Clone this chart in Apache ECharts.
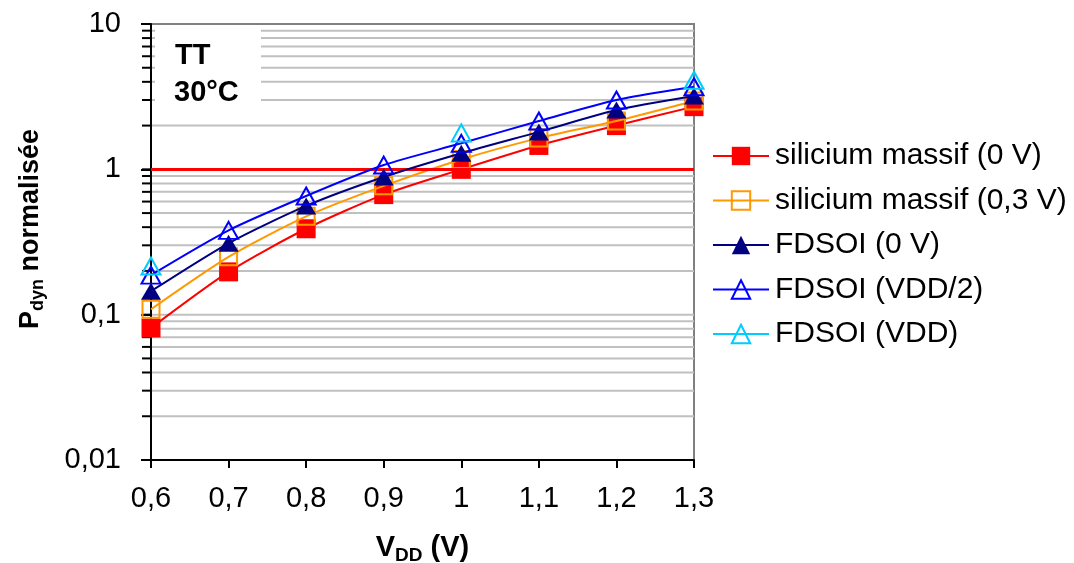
<!DOCTYPE html>
<html>
<head>
<meta charset="utf-8">
<script src="https://cdn.jsdelivr.net/npm/echarts@6/dist/echarts.min.js"></script>
</head>
<body style="margin:0">
<div id="container" style="width:1074px;height:563px;"></div>
<script type="text/javascript">
// tensions d'alimentation (V)
var xValues = [0.6, 0.7, 0.8, 0.9, 1.0, 1.1, 1.2, 1.3];
var xTickLabels = ['0,6', '0,7', '0,8', '0,9', '1', '1,1', '1,2', '1,3'];
var yTickValues = [0.01, 0.1, 1, 10];
var yTickLabels = ['0,01', '0,1', '1', '10'];
// lignes de grille secondaires (2..9 par decade)
var yGridValues = [0.02, 0.03, 0.04, 0.05, 0.06, 0.07, 0.08, 0.09, 0.1,
                   0.2, 0.3, 0.4, 0.5, 0.6, 0.7, 0.8, 0.9, 1,
                   2, 3, 4, 5, 6, 7, 8, 9];

var siliciumMassif0V  = [0.081, 0.197, 0.39, 0.67, 1.0, 1.46, 2.0, 2.7];
var siliciumMassif03V = [0.109, 0.25, 0.475, 0.77, 1.17, 1.64, 2.15, 2.95];
var fdsoi0V           = [0.145, 0.31, 0.56, 0.885, 1.29, 1.81, 2.56, 3.2];
var fdsoiVdd2         = [0.187, 0.38, 0.655, 1.07, 1.51, 2.15, 3.0, 3.7];
var fdsoiVddX         = [0.6, 1.0, 1.3];
var fdsoiVdd          = [0.216, 1.78, 4.1];

var refLevel = 1;

function pairs(xs, ys) {
    return xs.map(function (x, i) { return [x, ys[i]]; });
}

var dom = document.getElementById("container");
var myChart = echarts.init(dom);
var font = 'Liberation Sans, Arial, sans-serif';
var none = 'rgba(0,0,0,0)';

var option = {
    animation: false,
    textStyle: { fontFamily: font },
    grid: {
        left: 151, right: 380, top: 24, bottom: 103,
        outerBoundsMode: 'none',
        containLabel: false,
        show: true, borderColor: '#808080', borderWidth: 2
    },
    legend: {
        orient: 'vertical',
        left: 707, top: 136,
        itemWidth: 56, itemHeight: 23, itemGap: 14.5,
        textStyle: { fontSize: 30, lineHeight: 30, color: '#000', padding: [0, 0, 0, 1] },
        data: [
            { name: 'silicium massif (0 V)' },
            { name: 'silicium massif (0,3 V)' },
            { name: 'FDSOI (0 V)' },
            { name: 'FDSOI (VDD/2)' },
            { name: 'FDSOI (VDD)', lineStyle: { color: '#00ccff', width: 2, opacity: 1 } }
        ]
    },
    xAxis: {
        type: 'value',
        min: 0.6, max: 1.3, interval: 0.1,
        axisLine: { lineStyle: { color: '#000', width: 2 } },
        axisTick: { inside: false, length: 8, lineStyle: { color: '#000', width: 2 } },
        splitLine: { show: false },
        axisLabel: {
            fontSize: 29, color: '#000', margin: 24,
            formatter: function (v) { return xTickLabels[Math.round((v - 0.6) * 10)]; }
        },
        name: '{m|V}{s|DD}{m| (V)}',
        nameLocation: 'middle',
        nameGap: 71,
        nameTextStyle: {
            rich: {
                m: { fontSize: 29, fontWeight: 'bold', lineHeight: 34, color: '#000' },
                s: { fontSize: 19, fontWeight: 'bold', lineHeight: 19, padding: [15, 0, 0, 0], color: '#000' }
            }
        }
    },
    yAxis: {
        type: 'log',
        logBase: 10,
        min: 0.01, max: 10,
        axisLine: { lineStyle: { color: '#000', width: 2 } },
        axisTick: { inside: false, length: 10, lineStyle: { color: '#000', width: 2 } },
        splitLine: { show: false },
        axisLabel: {
            fontSize: 29, color: '#000', margin: 30,
            formatter: function (v) {
                for (var i = 0; i < yTickValues.length; i++) {
                    if (Math.abs(Math.log10(v) - Math.log10(yTickValues[i])) < 1e-6) return yTickLabels[i];
                }
                return '';
            }
        },
        name: '{m|P}{s|dyn}{m| normalisée}',
        nameLocation: 'middle',
        nameRotate: 90,
        nameGap: 104,
        nameTextStyle: {
            padding: [0, 0, 0, 26],
            rich: {
                m: { fontSize: 27, fontWeight: 'bold', lineHeight: 32, color: '#000' },
                s: { fontSize: 18, fontWeight: 'bold', lineHeight: 18, padding: [14, 0, 0, 0], color: '#000' }
            }
        }
    },
    graphic: [
        { type: 'rect', shape: { x: 155, y: 26, width: 106, height: 96 }, style: { fill: '#fff' }, z: 5 },
        { type: 'text', x: 175, y: 56, z: 6,
          style: { text: 'TT', font: 'bold 29px ' + font, fill: '#000', verticalAlign: 'middle' } },
        { type: 'text', x: 174, y: 93, z: 6,
          style: { text: '30°C', font: 'bold 29px ' + font, fill: '#000', verticalAlign: 'middle' } }
    ],
    series: [
        {
            type: 'custom',
            name: 'grille',
            silent: true,
            clip: false,
            z: 1,
            data: yGridValues.map(function (v) { return [0.6, v]; }),
            renderItem: function (params, api) {
                var v = api.value(1);
                var p0 = api.coord([0.6, v]);
                var p1 = api.coord([1.3, v]);
                return {
                    type: 'group',
                    children: [
                        { type: 'line', shape: { x1: p0[0] + 1, y1: p0[1], x2: p1[0], y2: p1[1] },
                          style: { stroke: '#c0c0c0', lineWidth: 2 } },
                        { type: 'line', shape: { x1: p0[0] - 9, y1: p0[1], x2: p0[0], y2: p0[1] },
                          style: { stroke: '#000', lineWidth: 2 } }
                    ]
                };
            }
        },
        {
            name: 'silicium massif (0 V)',
            type: 'line',
            smooth: 0.25,
            z: 3,
            data: pairs(xValues, siliciumMassif0V),
            symbol: 'rect', symbolSize: 19,
            itemStyle: { color: '#ff0000' },
            lineStyle: { color: '#ff0000', width: 2 },
            markLine: {
                silent: true,
                symbol: 'none',
                label: { show: false },
                lineStyle: { color: '#ff0000', width: 3, type: 'solid' },
                data: [{ yAxis: refLevel }]
            }
        },
        {
            name: 'silicium massif (0,3 V)',
            type: 'line',
            smooth: 0.25,
            z: 4,
            data: pairs(xValues, siliciumMassif03V),
            symbol: 'rect', symbolSize: 17,
            itemStyle: { color: none, borderColor: '#ff9900', borderWidth: 2 },
            lineStyle: { color: '#ff9900', width: 2 }
        },
        {
            name: 'FDSOI (0 V)',
            type: 'line',
            smooth: 0.25,
            z: 5,
            data: pairs(xValues, fdsoi0V),
            symbol: 'triangle', symbolSize: [20, 17],
            itemStyle: { color: '#000080' },
            lineStyle: { color: '#000080', width: 2 }
        },
        {
            name: 'FDSOI (VDD/2)',
            type: 'line',
            smooth: 0.25,
            z: 6,
            data: pairs(xValues, fdsoiVdd2),
            symbol: 'triangle', symbolSize: [19, 17],
            itemStyle: { color: none, borderColor: '#0000ff', borderWidth: 2 },
            lineStyle: { color: '#0000ff', width: 2 }
        },
        {
            name: 'FDSOI (VDD)',
            type: 'line',
            z: 7,
            data: pairs(fdsoiVddX, fdsoiVdd),
            symbol: 'triangle', symbolSize: [19, 17],
            itemStyle: { color: none, borderColor: '#00ccff', borderWidth: 2 },
            lineStyle: { color: '#00ccff', width: 2, opacity: 0 }
        }
    ]
};

myChart.setOption(option);
</script>
</body>
</html>
